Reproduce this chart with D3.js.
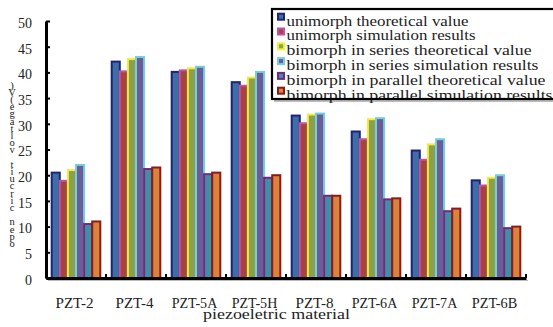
<!DOCTYPE html>
<html>
<head>
<meta charset="utf-8">
<script src="https://cdn.jsdelivr.net/npm/d3@7"></script>
<style>
  html, body { margin: 0; padding: 0; background: #fff; }
  svg { display: block; }
  text { font-family: "Liberation Serif", "DejaVu Serif", serif; fill: #222; }
</style>
</head>
<body>
<svg id="chart" width="553" height="327"></svg>
<script>
// Materials on the x axis
const categories = ["PZT-2", "PZT-4", "PZT-5A", "PZT-5H", "PZT-8", "PZT-6A", "PZT-7A", "PZT-6B"];

// Open circuit voltage (V) per material, one array per configuration
const unimorphTheory   = [20.5, 42.1, 40.1, 38.1, 31.6, 28.5, 24.8, 19.0];
const unimorphSim      = [18.9, 40.2, 40.4, 37.4, 30.1, 27.0, 23.0, 18.0];
const seriesTheory     = [21.0, 42.6, 40.8, 39.0, 31.8, 30.9, 26.0, 19.5];
const seriesSim        = [22.0, 43.0, 41.1, 40.1, 32.0, 31.1, 27.0, 20.0];
const parallelTheory   = [10.5, 21.2, 20.2, 19.5, 16.0, 15.3, 13.0, 9.7];
const parallelSim      = [11.0, 21.5, 20.5, 20.0, 16.0, 15.5, 13.5, 10.0];

const seriesNames = [
  "unimorph theoretical value",
  "unimorph simulation results",
  "bimorph in series theoretical value",
  "bimorph in series simulation results",
  "bimorph in parallel theoretical value",
  "bimorph in parallel simulation results"
];
const yTicks = [0, 5, 10, 15, 20, 25, 30, 35, 40, 45, 50];

const seriesValues = [unimorphTheory, unimorphSim, seriesTheory, seriesSim, parallelTheory, parallelSim];
const fills   = ["#3E6EA6", "#A3453E", "#8BA04A", "#6C5C98", "#3F8FA6", "#D9833C"];
const strokes = ["#1E2478", "#C24FA8", "#F2EE3A", "#74D0E0", "#76287E", "#8C1A1A"];

const svg = d3.select("#chart");
const plotLeft = 46, plotRight = 526, plotTop = 21, plotBottom = 278;

const x0 = d3.scaleBand().domain(categories).range([plotLeft, plotRight]).padding(0);
const x1 = d3.scaleBand().domain(d3.range(seriesNames.length))
  .range([5.7, x0.bandwidth() - 5.7]).padding(0);
const y = d3.scaleLinear().domain([0, 50]).range([plotBottom, plotTop]);

// Bars: one group per material, series drawn left to right
const groups = svg.append("g").selectAll("g")
  .data(categories)
  .join("g")
  .attr("transform", d => `translate(${x0(d)},0)`);

groups.selectAll("rect")
  .data((c, ci) => seriesValues.map((vals, si) => ({ si, v: vals[ci] })))
  .join("rect")
  .attr("x", d => x1(d.si))
  .attr("y", d => y(d.v))
  .attr("width", x1.bandwidth())
  .attr("height", d => y(0) - y(d.v))
  .attr("fill", d => fills[d.si])
  .attr("stroke", d => strokes[d.si])
  .attr("stroke-width", 2);

// Y axis with inward ticks
const yAxis = svg.append("g")
  .attr("transform", `translate(${plotLeft},0)`)
  .call(d3.axisLeft(y).tickValues(yTicks).tickFormat(d3.format("d"))
    .tickSizeInner(-4).tickSizeOuter(0).tickPadding(14));
yAxis.select(".domain").attr("stroke", "#000").attr("stroke-width", 3);
yAxis.selectAll(".tick line").attr("stroke", "#000").attr("stroke-width", 2);
yAxis.selectAll(".tick text")
  .attr("font-size", 15)
  .attr("dy", 6.3)
  .attr("fill", "#333")
  .attr("textLength", d => String(d).length * 7)
  .attr("lengthAdjust", "spacingAndGlyphs");

// X axis: shadow, line, boundary ticks, labels
svg.append("line")
  .attr("x1", plotLeft + 2).attr("x2", plotRight + 2)
  .attr("y1", plotBottom + 2.5).attr("y2", plotBottom + 2.5)
  .attr("stroke", "#bbb").attr("stroke-width", 1);
const xAxis = svg.append("g")
  .attr("transform", `translate(0,${plotBottom})`)
  .call(d3.axisBottom(x0).tickSize(0).tickPadding(0));
xAxis.select(".domain").attr("stroke", "#000").attr("stroke-width", 3);
xAxis.selectAll(".tick text")
  .attr("font-size", 15)
  .attr("y", 29.5)
  .attr("dy", 0)
  .attr("x", -1.5)
  .attr("fill", "#333")
  .attr("textLength", d => d.length * 7.6)
  .attr("lengthAdjust", "spacingAndGlyphs");
xAxis.selectAll(".boundary")
  .data(categories)
  .join("line")
  .attr("class", "boundary")
  .attr("x1", d => x0(d) + x0.bandwidth())
  .attr("x2", d => x0(d) + x0.bandwidth())
  .attr("y1", 0).attr("y2", -4)
  .attr("stroke", "#000").attr("stroke-width", 2);

// Axis titles
const xTitle = "piezoeletric material";
svg.append("text")
  .attr("x", 203).attr("y", 318.5)
  .attr("font-size", 15)
  .attr("fill", "#333")
  .attr("textLength", xTitle.length * 7)
  .attr("lengthAdjust", "spacingAndGlyphs")
  .text(xTitle);

const yTitle = "open circuit voltage(V)";
svg.append("g").selectAll("text")
  .data(yTitle.split(""))
  .join("text")
  .attr("x", 12)
  .attr("y", (d, i) => 247 - i * 7.2)
  .attr("text-anchor", "middle")
  .attr("font-size", 10.5)
  .attr("fill", "#444")
  .text(d => d);

// Legend
const legend = svg.append("g");
legend.append("rect")
  .attr("x", 275).attr("y", 11).attr("width", 300).attr("height", 90)
  .attr("fill", "none").attr("stroke", "#bbb").attr("stroke-width", 2);
legend.append("rect")
  .attr("x", 272).attr("y", 9).attr("width", 300).attr("height", 90)
  .attr("fill", "#fff");
const items = legend.selectAll(".item")
  .data(seriesNames)
  .join("g")
  .attr("class", "item")
  .attr("transform", (d, i) => `translate(0,${i * 14.8})`);
items.append("rect")
  .attr("x", 278).attr("y", 13.7).attr("width", 6).attr("height", 6)
  .attr("fill", (d, i) => fills[i])
  .attr("stroke", (d, i) => strokes[i])
  .attr("stroke-width", 2);
items.append("text")
  .attr("x", 286.5).attr("y", 25.7)
  .attr("font-size", 15)
  .attr("fill", "#333")
  .attr("textLength", d => d.length * 7)
  .attr("lengthAdjust", "spacingAndGlyphs")
  .text(d => d);
legend.append("rect")
  .attr("x", 272).attr("y", 9).attr("width", 300).attr("height", 90)
  .attr("fill", "none").attr("stroke", "#000").attr("stroke-width", 2.2);
</script>
</body>
</html>
